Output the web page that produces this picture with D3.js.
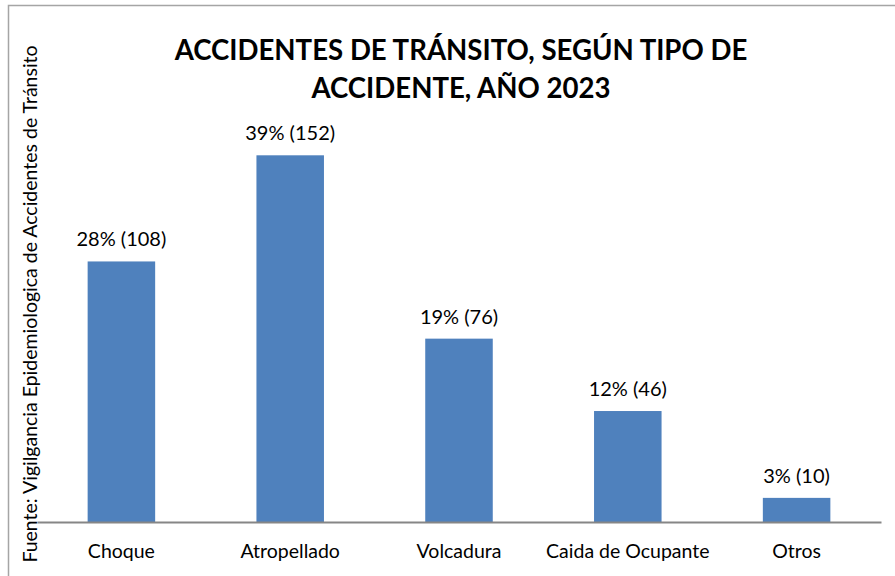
<!DOCTYPE html>
<html>
<head>
<meta charset="utf-8">
<script src="https://cdn.jsdelivr.net/npm/d3@7"></script>
<style>
  body { margin: 0; background: #fff; }
  svg { display: block; }
  text { font-family: Lato, "Open Sans", sans-serif; fill: #000; }
</style>
</head>
<body>
<div id="chart"></div>
<script>
// data
var categories = ["Choque", "Atropellado", "Volcadura", "Caida de Ocupante", "Otros"];
var counts = [108, 152, 76, 46, 10];
var percents = [28, 39, 19, 12, 3];
var titleLines = ["ACCIDENTES DE TRÁNSITO, SEGÚN TIPO DE", "ACCIDENTE, AÑO 2023"];
var sourceText = "Fuente: Vigilgancia Epidemiologica de Accidentes de Tránsito";

var width = 895, height = 576;
var margin = {top: 136, right: 14, bottom: 54, left: 37};

var svg = d3.select("#chart").append("svg")
    .attr("width", width)
    .attr("height", height);

// outer frame (only top and left edges are visible)
svg.append("path")
    .attr("d", "M8.5," + height + "V5.5H" + width)
    .attr("fill", "none")
    .attr("stroke", "#a5a5a5")
    .attr("stroke-width", 1.5);

var x = d3.scaleBand()
    .domain(categories)
    .range([margin.left, width - margin.right])
    .paddingInner(0.6)
    .paddingOuter(0.3);

var y = d3.scaleLinear()
    .domain([0, 160])
    .range([height - margin.bottom, margin.top]);

// bars
svg.append("g")
    .selectAll("rect")
    .data(categories)
    .join("rect")
    .attr("x", function(d) { return x(d); })
    .attr("y", function(d, i) { return y(counts[i]); })
    .attr("width", x.bandwidth())
    .attr("height", function(d, i) { return y(0) - y(counts[i]); })
    .attr("fill", "#4f81bd");

// value labels
svg.append("g")
    .selectAll("text")
    .data(categories)
    .join("text")
    .attr("x", function(d) { return x(d) + x.bandwidth() / 2; })
    .attr("y", function(d, i) { return y(counts[i]) - 15; })
    .attr("text-anchor", "middle")
    .style("font-size", "20px")
    .text(function(d, i) { return percents[i] + "% (" + counts[i] + ")"; });

// x axis
var xAxis = svg.append("g")
    .attr("transform", "translate(0," + y(0) + ")")
    .call(d3.axisBottom(x).tickSize(0).tickPadding(22));

xAxis.select(".domain")
    .attr("stroke", "#868686")
    .attr("stroke-width", 2);

xAxis.selectAll("text")
    .style("font-family", "Lato, 'Open Sans', sans-serif")
    .style("font-size", "19.5px")
    .attr("fill", "#000");

// title
svg.append("text")
    .attr("text-anchor", "middle")
    .style("font-size", "27.6px")
    .style("font-weight", "bold")
    .selectAll("tspan")
    .data(titleLines)
    .join("tspan")
    .attr("x", 461)
    .attr("y", function(d, i) { return 60 + i * 38; })
    .text(function(d) { return d; });

// source note, rotated along the left side
svg.append("text")
    .attr("transform", "translate(37," + 304 + ") rotate(-90)")
    .attr("text-anchor", "middle")
    .style("font-size", "19.5px")
    .text(sourceText);
</script>
</body>
</html>
